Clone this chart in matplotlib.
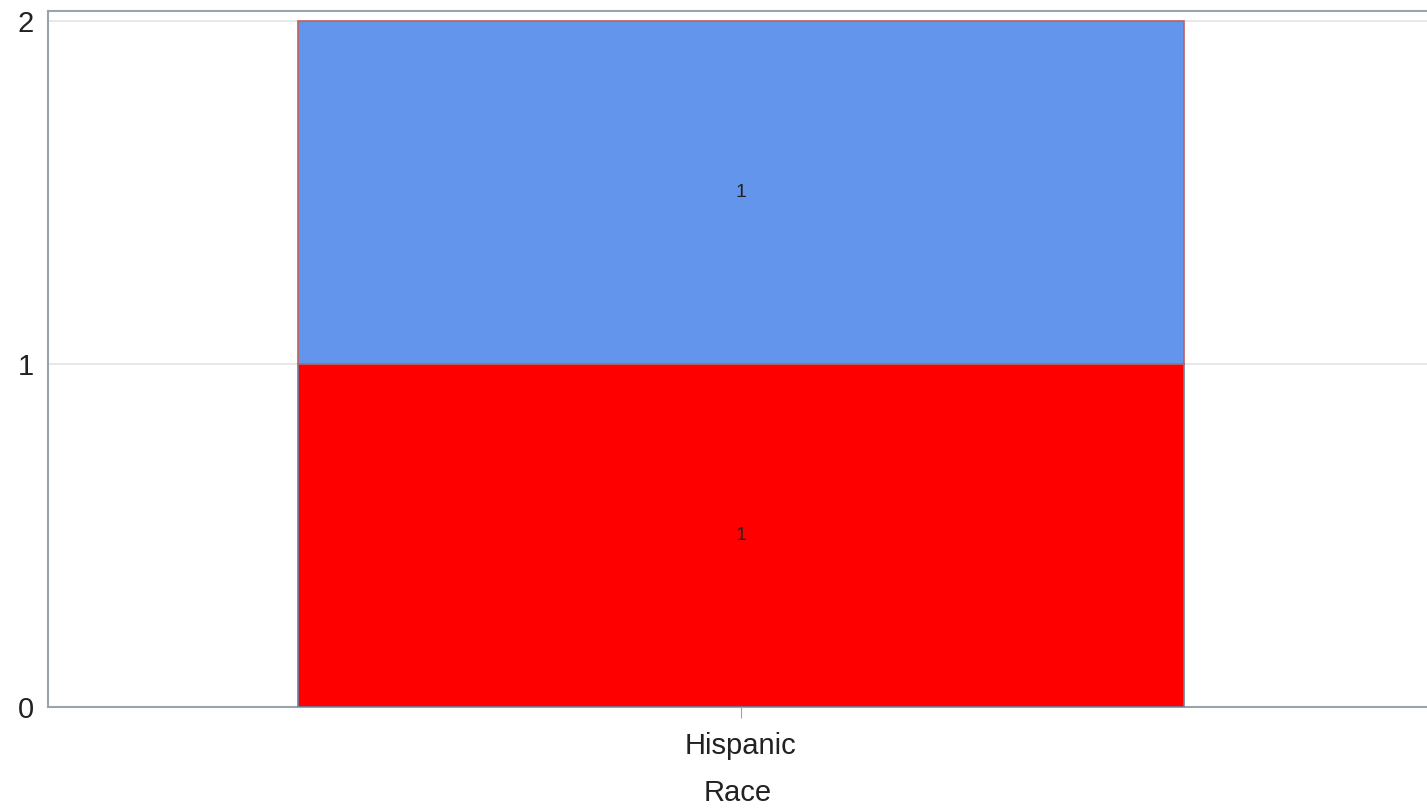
import matplotlib
matplotlib.use("Agg")
import matplotlib.pyplot as plt

# ==========================================
# DATA
# ==========================================
categories = ["Hispanic"]
series_bottom = [1]   # red segment
series_top = [1]      # blue segment
y_ticks = [0, 1, 2]

RED = "#ff0000"
BLUE = "#6495ed"
SPINE = "#9aa3ab"

plt.rcParams['font.family'] = ['Liberation Sans', 'DejaVu Sans']

fig = plt.figure(figsize=(14.27, 8.08), dpi=100)
ax = fig.add_axes([48 / 1427, 1 - 707 / 808, (1427 - 48) / 1427, (707 - 11) / 808])

x = list(range(len(categories)))
bars_bottom = ax.bar(x, series_bottom, width=0.64, color=RED,
                     edgecolor="#6a7fa8", linewidth=1.2, zorder=3)
bars_top = ax.bar(x, series_top, width=0.64, bottom=series_bottom, color=BLUE,
                  edgecolor="#c0605d", linewidth=1.2, zorder=3)

for bars, base in ((bars_bottom, [0] * len(x)), (bars_top, series_bottom)):
    for b, b0 in zip(bars, base):
        h = b.get_height()
        ax.text(b.get_x() + b.get_width() / 2, b0 + h / 2, f"{h:g}",
                ha="center", va="center", fontsize=14, color="#222222", zorder=4)

ax.set_xlim(-0.501, 0.496)
ax.set_ylim(0, 2.03)
ax.set_yticks(y_ticks)
ax.set_xticks(x)
ax.set_xticklabels(categories)

ax.grid(axis="y", color="#e4e4e4", linewidth=1.2, zorder=0)
ax.set_axisbelow(True)

for side in ("left", "bottom", "top"):
    ax.spines[side].set_color(SPINE)
    ax.spines[side].set_linewidth(1.5)
ax.spines["right"].set_visible(False)

ax.tick_params(axis="y", length=0, pad=10, labelsize=21, labelcolor="#222222")
ax.tick_params(axis="x", length=8, color=SPINE, pad=10, labelsize=21,
               labelcolor="#222222")
ax.set_xlabel("Race", fontsize=21, color="#222222", labelpad=14)

fig.savefig("out.png", dpi=100)
